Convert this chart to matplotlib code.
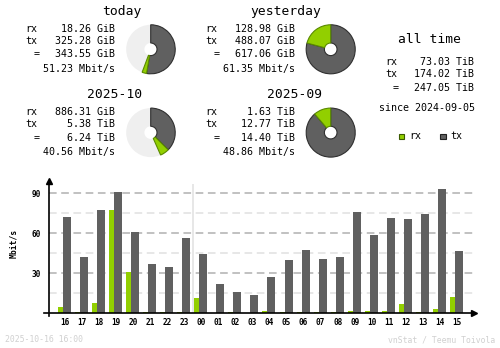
import matplotlib
matplotlib.use("Agg")
import matplotlib.pyplot as plt
import numpy as np
from matplotlib.patches import Wedge, Rectangle

# traffic summaries: (rx, tx, total) with units, plus average rate
today = [(18.26, "GiB"), (325.28, "GiB"), (343.55, "GiB")]
today_rate = 51.23
yesterday = [(128.98, "GiB"), (488.07, "GiB"), (617.06, "GiB")]
yesterday_rate = 61.35
month_cur = [(886.31, "GiB"), (5.38, "TiB"), (6.24, "TiB")]
month_cur_rate = 40.56
month_prev = [(1.63, "TiB"), (12.77, "TiB"), (14.40, "TiB")]
month_prev_rate = 48.86
all_time = [(73.03, "TiB"), (174.02, "TiB"), (247.05, "TiB")]
since = "2024-09-05"

# hourly average rates, Mbit/s
hours = ["16", "17", "18", "19", "20", "21", "22", "23", "00", "01", "02", "03",
         "04", "05", "06", "07", "08", "09", "10", "11", "12", "13", "14", "15"]
rx_rate = [4.75, 1.0, 7.75, 77.5, 31.0, 1.0, 1.0, 1.0, 11.5, 0.2, 1.0, 0.0,
           1.75, 1.0, 1.0, 1.0, 1.0, 1.75, 1.75, 1.75, 7.0, 1.0, 3.25, 12.25]
tx_rate = [72.25, 42.25, 77.5, 91.0, 61.0, 37.0, 34.75, 56.5, 44.5, 22.0, 16.0, 13.75,
           27.25, 40.0, 47.5, 40.75, 42.25, 76.0, 58.75, 71.5, 70.75, 74.5, 93.25, 46.75]

RX = "#92cf00"
TX = "#606060"
PIE_BG = "#efefef"
MONO = "DejaVu Sans Mono"
W, H = 500, 348

fig = plt.figure(figsize=(5, 3.48), dpi=100)


def fpos(x, y):
    return x / W, 1 - y / H


def put(x, y, s, size=7.2, ha="left", **kw):
    fig.text(*fpos(x, y), s, fontsize=size, ha=ha, va="center", family=MONO, **kw)


def gib(v):
    return v[0] * 1024 if v[1] == "TiB" else v[0]


def pie(cx, cy, vals, filled=1.0):
    r = 24.5
    ax = fig.add_axes([(cx - r - 1) / W, 1 - (cy + r + 1) / H, (2 * r + 2) / W, (2 * r + 2) / H])
    ax.set_xlim(-1.04, 1.04)
    ax.set_ylim(-1.04, 1.04)
    ax.axis("off")
    w = 1 - 6.3 / r
    rx, tx, tot = (gib(v) for v in vals)
    f_tx = filled * tx / tot
    f_rx = filled * rx / tot
    ax.add_patch(Wedge((0, 0), 1, 0, 360, width=w, color=PIE_BG, lw=0))
    ax.add_patch(Wedge((0, 0), 1, 90 - 360 * f_tx, 90, width=w,
                       facecolor=TX, edgecolor="#303030", lw=0.8))
    ax.add_patch(Wedge((0, 0), 1, 90 - 360 * (f_tx + f_rx), 90 - 360 * f_tx, width=w,
                       facecolor=RX, edgecolor="#5a8a00", lw=0.8))


def block(x0, ty, title, title_x, vals, rate, filled):
    put(title_x, ty, title, size=9.4, ha="center")
    put(x0, ty + 18, "rx")
    put(x0, ty + 30, "tx")
    put(x0 + 9, ty + 43.3, "=")
    for dy, v in zip([18, 30, 43.3], vals):
        put(x0 + 90, ty + dy, f"{v[0]:.2f} {v[1]}", ha="right")
    put(x0 + 90, ty + 58, f"{rate:.2f} Mbit/s", ha="right")
    pie(x0 + 125.7, ty + 38.3, vals, filled)


block(25, 11, "today", 122, today, today_rate,
      gib(today[2]) / gib(yesterday[2]))
block(205, 11, "yesterday", 286, yesterday, yesterday_rate, 1.0)
block(25, 94.3, "2025-10", 114.2, month_cur, month_cur_rate,
      gib(month_cur[2]) / gib(month_prev[2]))
block(205, 94.3, "2025-09", 294.2, month_prev, month_prev_rate, 1.0)

# all time totals
put(429, 39.3, "all time", size=9.4, ha="center")
put(385, 62, "rx")
put(385, 74, "tx")
put(393, 87.7, "=")
for y, v in zip([62, 74, 87.7], all_time):
    put(474.3, y, f"{v[0]:.2f} {v[1]}", ha="right")
put(426.7, 108, f"since {since}", ha="center")

for x, c, ec, lab in [(399, RX, "#3a5a00", "rx"), (440.3, TX, "#202020", "tx")]:
    fx, fy = fpos(x, 139)
    fig.add_artist(Rectangle((fx, fy), 5.3 / W, 5.3 / H, transform=fig.transFigure,
                             facecolor=c, edgecolor=ec, lw=0.8))
    put(x + 10, 136, lab)

# hourly bar chart
ax = fig.add_axes([49 / W, 1 - 313.3 / H, 428 / W, 133.3 / H])
x = np.arange(len(hours))
x0, x1 = -0.939, 24.178
ax.set_xlim(x0, x1)
ax.set_ylim(0, 100)
for s in ax.spines.values():
    s.set_visible(False)

ax.hlines([15, 45, 75], x0, 23.94, color="#e0e0e0", lw=1.1, linestyles=(0, (5, 3)), zorder=1)
ax.hlines([30, 60, 90], x0, 23.94, color="#b0b0b0", lw=1.1, linestyles=(0, (5, 3)), zorder=1)
ax.vlines(7.5, 0, 97, color="#e0e0e0", lw=1.1, zorder=1)

ax.bar(x - 0.264, rx_rate, width=0.293, color=RX, lw=0, zorder=2)
ax.bar(x + 0.117, tx_rate, width=0.47, color=TX, lw=0, zorder=2)

ax.plot([x0, x0], [-2.3, 98], color="black", lw=1.2, clip_on=False, zorder=3)
ax.plot([x0], [99], marker="^", ms=4, color="black", clip_on=False, zorder=3)
ax.plot([-1.21, 23.95], [0, 0], color="black", lw=1.2, clip_on=False, zorder=3)
ax.plot([24.0], [0], marker=">", ms=4, color="black", clip_on=False, zorder=3)

ax.set_xticks(x)
ax.set_xticklabels(hours)
ax.set_yticks([30, 60, 90])
ax.set_yticklabels(["30", "60", "90"])
ax.tick_params(length=0, labelsize=5.6)
ax.tick_params(axis="x", pad=3.6)
ax.tick_params(axis="y", pad=5.6)
for t in ax.get_xticklabels() + ax.get_yticklabels():
    t.set_family(MONO)
    t.set_fontweight("bold")

fig.text(*fpos(14, 243), "Mbit/s", rotation=90, fontsize=5.8, fontweight="bold",
         family=MONO, ha="center", va="center")

put(5, 340, "2025-10-16 16:00", size=5.9, color="#d0d0d0")
put(495, 340, "vnStat / Teemu Toivola", size=5.9, ha="right", color="#d0d0d0")

fig.savefig("out.png", dpi=100, facecolor="white")
